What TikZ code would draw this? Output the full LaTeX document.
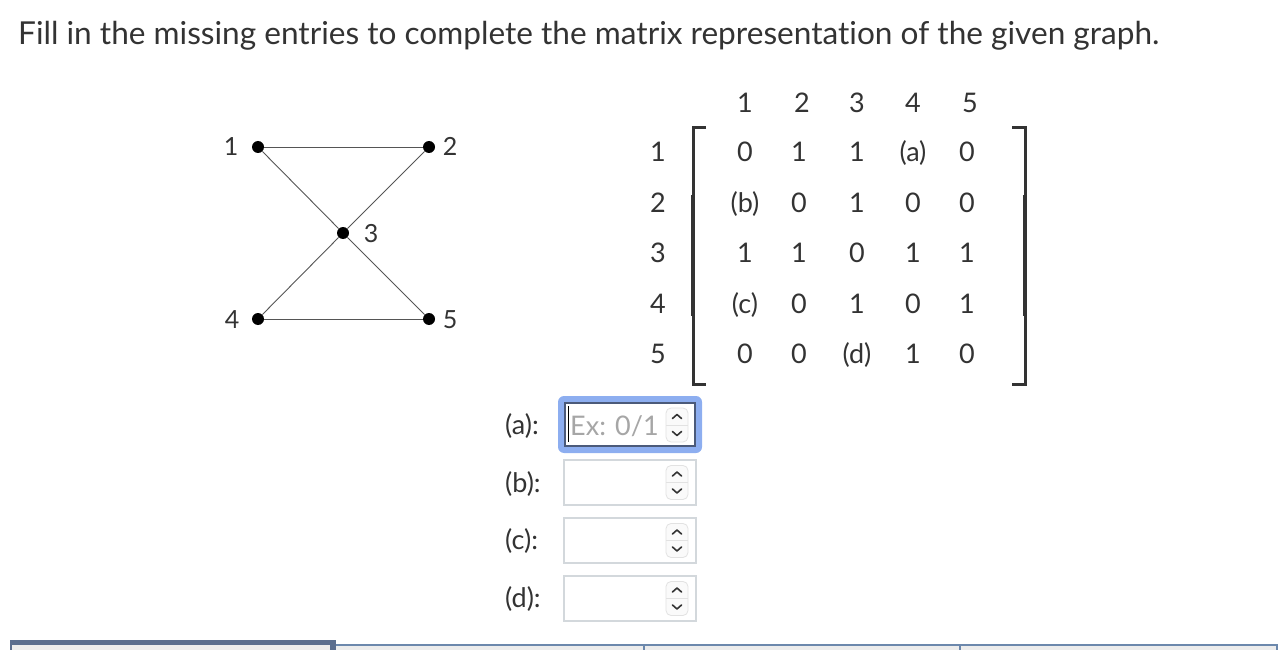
\documentclass[tikz,border=0pt]{standalone}
\usepackage{fontspec}
\setmainfont{Lato}[Ligatures=NoCommon]
\usetikzlibrary{calc}

\definecolor{txtgrey}{HTML}{333333}
\definecolor{edgegrey}{HTML}{555555}
\definecolor{boxgrey}{HTML}{D3D8DC}
\definecolor{spingrey}{HTML}{E2E2E2}
\definecolor{spinfill}{HTML}{FAFAFA}
\definecolor{ringblue}{HTML}{8DAEF0}
\definecolor{focusborder}{HTML}{4B5A7A}
\definecolor{phgrey}{HTML}{A6A6A6}
\definecolor{tabdark}{HTML}{5B6E8E}
\definecolor{tabblue}{HTML}{6C88AC}
\definecolor{tabgrey}{HTML}{ECECEC}

\tikzset{
  vertex/.style={circle, fill=black, inner sep=0pt, minimum size=12pt},
  edge/.style={draw=edgegrey, line width=0.9pt},
  vlabel/.style={anchor=base, inner sep=0pt, text=txtgrey, font=\fontsize{25}{30}\selectfont},
  entry/.style={anchor=base, inner sep=0pt, text=txtgrey, font=\fontsize{27}{32}\selectfont},
  bracket/.style={draw=txtgrey, line width=3pt},
  inbox/.style={draw=boxgrey, line width=1.2pt, fill=white},
  chevron/.style={draw=txtgrey, line width=1.6pt, line cap=round, line join=round},
  spinner/.pic={
    \draw[draw=spingrey, fill=spinfill, rounded corners=5pt, line width=0.8pt] (-11,-17) rectangle (11,17);
    \draw[spingrey, line width=0.8pt] (-11,0) -- (11,0);
    \draw[chevron] (-4.5,-6.5) -- (0,-10.5) -- (4.5,-6.5);
    \draw[chevron] (-4.5,6.5) -- (0,10.5) -- (4.5,6.5);
  }
}

\begin{document}
\begin{tikzpicture}[x=1pt, y=-1pt]
  \useasboundingbox (0,0) rectangle (1278,650);
  \node[anchor=base west, inner sep=0pt, text=txtgrey, font=\fontsize{31.6}{38}\selectfont] (title) at (18,45)
    {Fill in the missing entries to complete the matrix representation of the given graph.};
  %
  \node[vertex] (v1) at (258,147) {};
  \node[vertex] (v2) at (429,147) {};
  \node[vertex] (v3) at (343,233) {};
  \node[vertex] (v4) at (258,319) {};
  \node[vertex] (v5) at (429,319) {};
  \draw[edge] (v1) -- (v2);
  \draw[edge] (v1) -- (v3);
  \draw[edge] (v2) -- (v3);
  \draw[edge] (v3) -- (v4);
  \draw[edge] (v3) -- (v5);
  \draw[edge] (v4) -- (v5);
  \node[vlabel] (l1) at (231,156) {1};
  \node[vlabel] (l2) at (450,156) {2};
  \node[vlabel] (l3) at (371,243) {3};
  \node[vlabel] (l4) at (232,328) {4};
  \node[vlabel] (l5) at (450,328) {5};
  %
  \foreach \c/\x in {1/745, 2/802, 3/857, 4/913, 5/970}
    \node[entry] (h\c) at (\x,113) {\c};
  \foreach \r/\y/\a/\b/\cc/\d/\e in {1/162/0/1/1/(a)/0, 2/212/(b)/0/1/0/0, 3/262/1/1/0/1/1, 4/313/(c)/0/1/0/1, 5/363/0/0/(d)/1/0} {
    \node[entry] (r\r) at (658,\y) {\r};
    \node[entry] (m\r1) at (745,\y) {\a};
    \node[entry] (m\r2) at (799,\y) {\b};
    \node[entry] (m\r3) at (857,\y) {\cc};
    \node[entry] (m\r4) at (913,\y) {\d};
    \node[entry] (m\r5) at (967,\y) {\e};
  }
  \draw[bracket] (706,128) -- (693,128) -- (693,384) -- (706,384);
  \draw[bracket] (1012,128) -- (1025,128) -- (1025,384) -- (1012,384);
  \draw[bracket, line width=4.5pt] (693,195) -- (693,316);
  \draw[bracket, line width=4.5pt] (1025,195) -- (1025,316);
  %
  \node[entry, anchor=base west] (qa) at (505,434) {(a):};
  \node[entry, anchor=base west] (qb) at (505,492) {(b):};
  \node[entry, anchor=base west] (qc) at (505,549) {(c):};
  \node[entry, anchor=base west] (qd) at (505,607) {(d):};
  \fill[ringblue, rounded corners=6pt] (558,396) rectangle (702,453);
  \draw[draw=focusborder, fill=white, line width=1.5pt] (565,403) rectangle (695,446);
  \node[entry, anchor=base west, text=phgrey] (pha) at (570,435) {Ex: 0/1};
  \draw[black, line width=1.5pt] (568.5,406) -- (568.5,442);
  \draw[inbox] (564,460) rectangle (696,505);
  \draw[inbox] (564,518) rectangle (696,563);
  \draw[inbox] (564,576) rectangle (696,621);
  \pic at (677,425) {spinner};
  \pic at (677,482.5) {spinner};
  \pic at (677,540.5) {spinner};
  \pic at (677,598.5) {spinner};
  %
  \fill[tabgrey] (10,644) rectangle (1278,650);
  \fill[tabdark] (10,640) rectangle (336,644.5);
  \fill[tabdark] (10,640) rectangle (12,650);
  \fill[tabdark] (330,640) rectangle (336,650);
  \fill[tabblue] (336,644) rectangle (1278,646);
  \fill[tabblue] (643,644) rectangle (645,650);
  \fill[tabblue] (959,644) rectangle (961,650);
  \fill[tabblue] (1276,644) rectangle (1278,650);
\end{tikzpicture}
\end{document}
